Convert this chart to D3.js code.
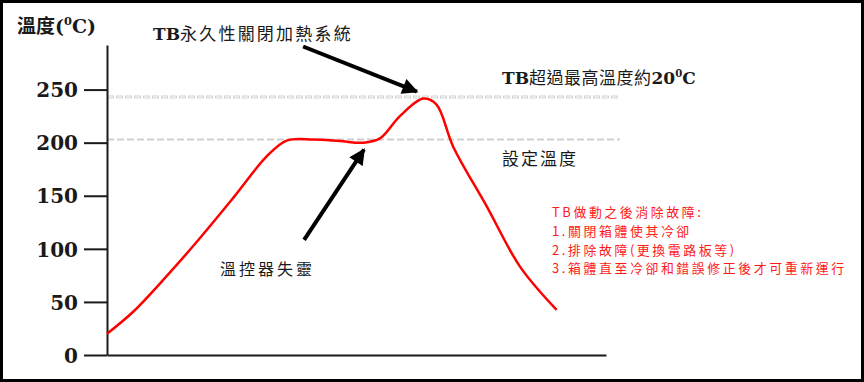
<!DOCTYPE html>
<html>
  <head>
    <meta charset="utf-8">
    <title></title>
  </head>
  <style>
  body{
    margin: 0;
    background: #fff;
  }
  svg { display: block; }
  .cjk { font-family: "Noto Sans CJK TC", "Noto Sans CJK SC", sans-serif; }
  .lat { font-family: "DejaVu Serif", serif; font-weight: bold; }
  </style>
  <script src="https://d3js.org/d3.v7.min.js"></script>
  <body>
    <script>
    // 時間 (相對單位) 與 溫度
    var times = [0, 5.3, 11.9, 18.6, 25.3, 32, 36, 41.3, 46.7, 51.4, 54.7, 58.7, 63.4, 66, 69.4, 76.1, 82.8, 90.1]
    var temps = [20, 41, 74, 110, 148, 187, 202, 203, 201.5, 200, 204, 225, 241.5, 236, 196, 140, 83, 42.5]

    var yTicks = [0, 50, 100, 150, 200, 250]
    var refValues = [243, 203]          // 最高溫度線, 設定溫度線

    var W = 864, H = 382

    var svg = d3.select("body")
                .append("svg")
                .attr("width", W)
                .attr("height", H)

    // 外框
    svg.append("rect")
       .attr("x", 1.5).attr("y", 1.5)
       .attr("width", W - 3).attr("height", H - 3)
       .attr("fill", "#fff")
       .attr("stroke", "#000")
       .attr("stroke-width", 3)

    var x = d3.scaleLinear().domain([0, 100]).range([107, 606])
    var y = d3.scaleLinear().domain([0, 292]).range([355, 45])

    // 參考虛線
    svg.append("line")
       .attr("x1", x(0)).attr("x2", x(102.8))
       .attr("y1", y(refValues[0])).attr("y2", y(refValues[0]))
       .attr("stroke", "#d2d2d2").attr("stroke-width", 3)
       .attr("stroke-dasharray", "7,2")
    svg.append("line")
       .attr("x1", x(0) + 1).attr("x2", x(102.8))
       .attr("y1", y(refValues[0])).attr("y2", y(refValues[0]))
       .attr("stroke", "#fff").attr("stroke-width", 1)
       .attr("stroke-dasharray", "5,4")
    svg.append("line")
       .attr("x1", x(0)).attr("x2", x(102.8))
       .attr("y1", y(refValues[1])).attr("y2", y(refValues[1]))
       .attr("stroke", "#cfcfcf").attr("stroke-width", 2)
       .attr("stroke-dasharray", "7,3")

    // y軸
    var yAxis = d3.axisLeft(y)
                  .tickValues(yTicks)
                  .tickSize(23)
                  .tickSizeOuter(0)
                  .tickPadding(6)
    var gy = svg.append("g")
       .attr("transform", "translate(" + x(0) + ",0)")
       .call(yAxis)
    gy.selectAll("path, line").attr("stroke", "#1a1a1a").attr("stroke-width", 2)
    gy.selectAll("text")
      .attr("class", "lat")
      .attr("font-size", 20)
      .attr("fill", "#1a1a1a")
      .attr("dy", "0.36em")

    // x軸
    var gx = svg.append("g")
       .attr("transform", "translate(0," + y(0) + ")")
       .call(d3.axisBottom(x).tickValues([]).tickSizeOuter(0))
    gx.select("path").attr("stroke", "#1a1a1a").attr("stroke-width", 2)

    // 溫度曲線
    var line = d3.line()
                 .x(function(d, i){ return x(times[i]) })
                 .y(function(d){ return y(d) })
                 .curve(d3.curveCatmullRom.alpha(0.5))
    svg.append("path")
       .datum(temps)
       .attr("d", line)
       .attr("fill", "none")
       .attr("stroke", "#ff0000")
       .attr("stroke-width", 2.5)

    // 箭頭
    svg.append("defs").append("marker")
       .attr("id", "head")
       .attr("viewBox", "0 0 10 10")
       .attr("refX", 9).attr("refY", 5)
       .attr("markerWidth", 4.2).attr("markerHeight", 4)
       .attr("markerUnits", "strokeWidth")
       .attr("orient", "auto")
       .append("path")
       .attr("d", "M0,0 L10,5 L0,10 Z")
       .attr("fill", "#000")

    var arrows = [
      { from: [39.3, 290.6], to: [62.1, 248] },
      { from: [39.5, 108.5], to: [51.5, 193.4] }
    ]
    svg.selectAll(".arrow")
       .data(arrows)
       .enter()
       .append("line")
       .attr("class", "arrow")
       .attr("x1", function(d){ return x(d.from[0]) })
       .attr("y1", function(d){ return y(d.from[1]) })
       .attr("x2", function(d){ return x(d.to[0]) })
       .attr("y2", function(d){ return y(d.to[1]) })
       .attr("stroke", "#000")
       .attr("stroke-width", 4)
       .attr("marker-end", "url(#head)")

    // 文字
    function mixed(g, parts, size, fill, spacing){
      var t = g.append("text").attr("font-size", size).attr("fill", fill)
      parts.forEach(function(p){
        var s = t.append("tspan").text(p.t)
        if (p.lat) s.attr("class", "lat")
        else s.attr("class", "cjk").attr("letter-spacing", spacing).attr("font-weight", p.bold ? "bold" : "normal")
        if (p.sup) s.attr("font-size", size * 0.6).attr("dy", -size * 0.4)
        if (p.down) s.attr("dy", size * 0.4)
      })
      return t
    }

    mixed(svg, [{t: "溫度", bold: true}, {t: "(", lat: true}, {t: "0", lat: true, sup: true}, {t: "C)", lat: true, down: true}], 19, "#1a1a1a", 0)
      .attr("x", 17).attr("y", 33)

    mixed(svg, [{t: "TB", lat: true}, {t: "永久性關閉加熱系統"}], 17, "#1a1a1a", 2.2)
      .attr("x", 153).attr("y", 40)

    mixed(svg, [{t: "TB", lat: true}, {t: "超過最高溫度約"}, {t: "20", lat: true}, {t: "0", lat: true, sup: true}, {t: "C", lat: true, down: true}], 17, "#1a1a1a", 0.5)
      .attr("x", 502).attr("y", 84)

    mixed(svg, [{t: "設定溫度"}], 17, "#1a1a1a", 2)
      .attr("x", 502).attr("y", 165)

    mixed(svg, [{t: "溫控器失靈"}], 16, "#1a1a1a", 3)
      .attr("x", 220).attr("y", 275)

    var notes = ["TB做動之後消除故障:", "1.關閉箱體使其冷卻", "2.排除故障(更換電路板等)", "3.箱體直至冷卻和錯誤修正後才可重新運行"]
    svg.selectAll(".note")
       .data(notes)
       .enter()
       .append("text")
       .attr("class", "note cjk")
       .attr("x", 552)
       .attr("y", function(d, i){ return 217 + i * 18.8 })
       .attr("font-size", 12.9)
       .attr("letter-spacing", 2.6)
       .attr("fill", "#ff1a1a")
       .text(function(d){ return d })
    </script>
  </body>
</html>
